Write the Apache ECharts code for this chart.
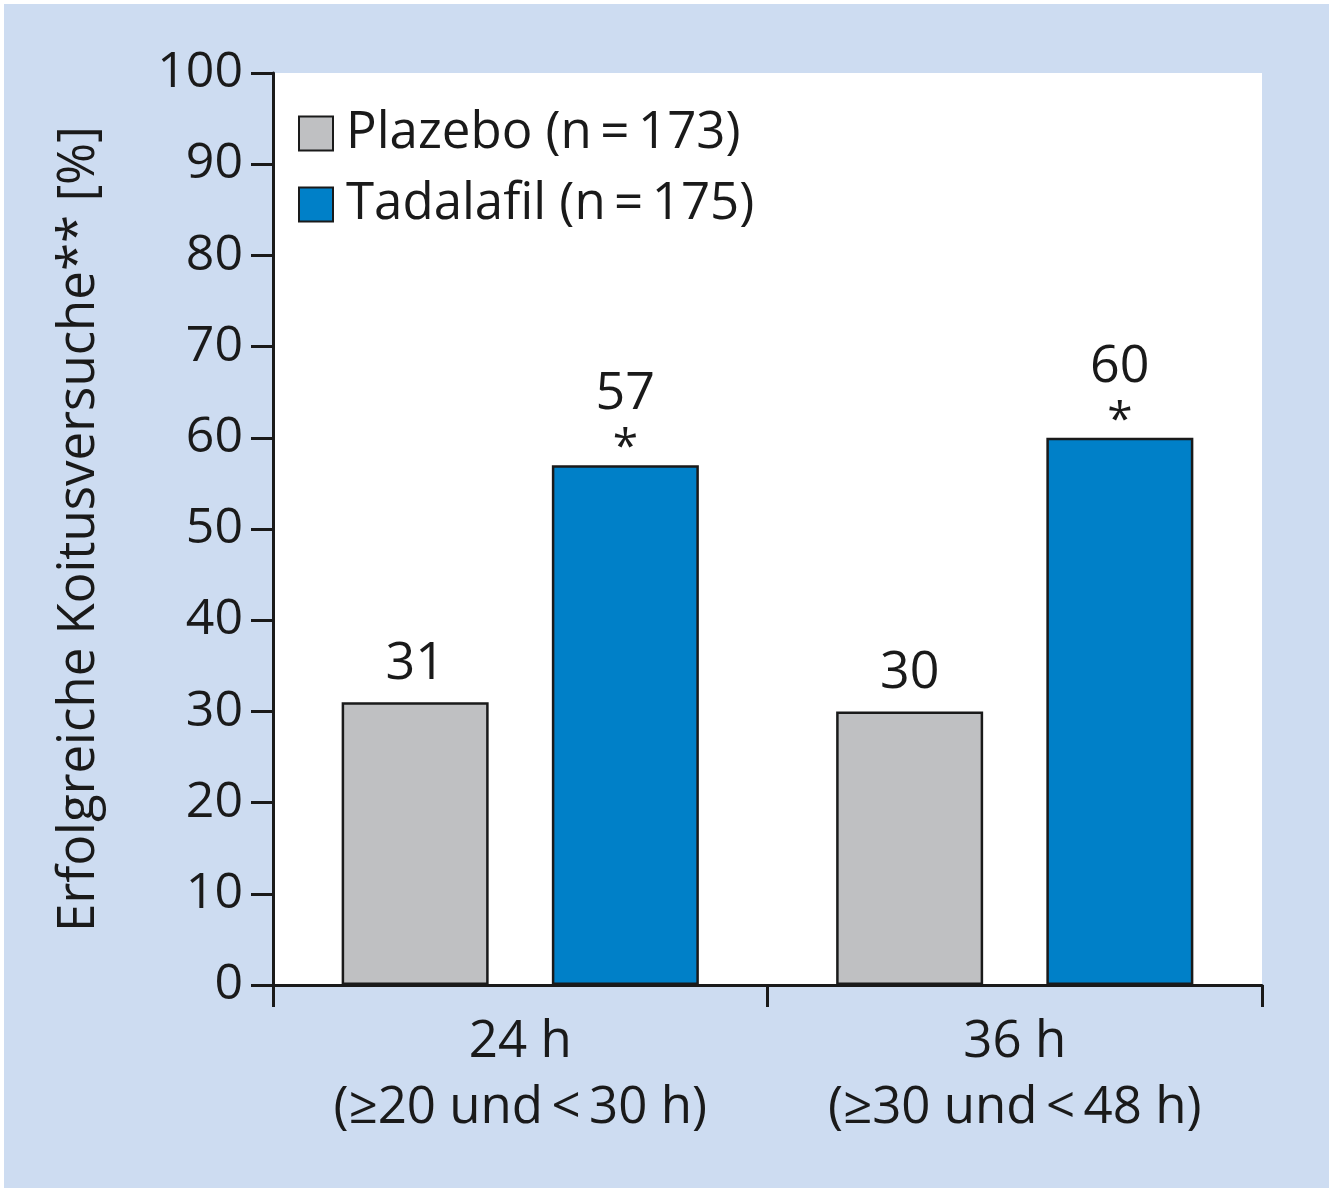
<!DOCTYPE html>
<html><head><meta charset="utf-8">
<script src="https://cdn.jsdelivr.net/npm/echarts@6/dist/echarts.min.js"></script>
<style>html,body{margin:0;padding:0;background:#fff}#c{width:1333px;height:1192px}</style>
</head><body><div id="c"></div>
<script>
const categories = ['24 h\n(≥20 und\u2009<\u200930 h)', '36 h\n(≥30 und\u2009<\u200948 h)'];
const plazebo = [31, 30];
const tadalafil = [57, 60];
const yTicks = [0,10,20,30,40,50,60,70,80,90,100];
const seriesNames = ['Plazebo (n\u2009=\u2009173)', 'Tadalafil (n\u2009=\u2009175)'];
const font = '"Open Sans", "DejaVu Sans", sans-serif';
const chart = echarts.init(document.getElementById('c'));
chart.setOption({
  backgroundColor: '#ffffff',
  graphic: [{type:'rect', shape:{x:4,y:4,width:1325,height:1184}, style:{fill:'#cddcf1'}, z:-10}],
  grid: {left:273, right:71, top:73, bottom:207, show:true, backgroundColor:'#ffffff', borderWidth:0},
  legend: {
    left: 293, top: 103, orient:'vertical', itemGap: 20, itemWidth: 34, itemHeight: 34,
    textStyle:{fontFamily:font, fontSize:51, color:'#1a1a1a', padding:[0,0,0,8]},
    data:[{name:seriesNames[0], icon:'rect'},{name:seriesNames[1], icon:'rect'}]
  },
  xAxis: {
    type:'category', data:categories,
    axisLine:{lineStyle:{color:'#1a1a1a', width:3}},
    axisTick:{show:true, length:22, lineStyle:{width:3,color:'#1a1a1a'}},
    axisLabel:{fontFamily:font, fontSize:51, color:'#1a1a1a', lineHeight:66, margin:24}
  },
  yAxis: {
    type:'value', min:0, max:100, interval:10,
    name:'Erfolgreiche Koitusversuche** [%]', nameLocation:'middle', nameGap:168, nameRotate:90,
    nameTextStyle:{fontFamily:font, fontSize:51, color:'#1a1a1a'},
    axisLine:{show:true, lineStyle:{color:'#1a1a1a', width:3}},
    axisTick:{show:true, length:22, lineStyle:{width:3,color:'#1a1a1a'}},
    splitLine:{show:false},
    axisLabel:{fontFamily:font, fontSize:50, color:'#1a1a1a', margin:30, formatter:v=>yTicks.includes(v)?String(v):''}
  },
  series: [
    {name:seriesNames[0], type:'bar', data:plazebo, barWidth:147, barGap:'43%',
     itemStyle:{color:'#bfc0c2', borderColor:'#1a1a1a', borderWidth:2.5},
     label:{show:true, position:'top', distance:12, fontFamily:font, fontSize:52, color:'#1a1a1a'}},
    {name:seriesNames[1], type:'bar', data:tadalafil, barWidth:147,
     itemStyle:{color:'#0080c8', borderColor:'#1a1a1a', borderWidth:2.5},
     label:{show:true, position:'top', distance:2, formatter:p=>'{v|'+p.value+'}\n{s|*}',
       rich:{v:{fontFamily:font, fontSize:52, color:'#1a1a1a', lineHeight:62},
             s:{fontFamily:font, fontSize:46, color:'#1a1a1a', lineHeight:38, padding:[10,0,0,0]}}}}
  ]
});
</script></body></html>
